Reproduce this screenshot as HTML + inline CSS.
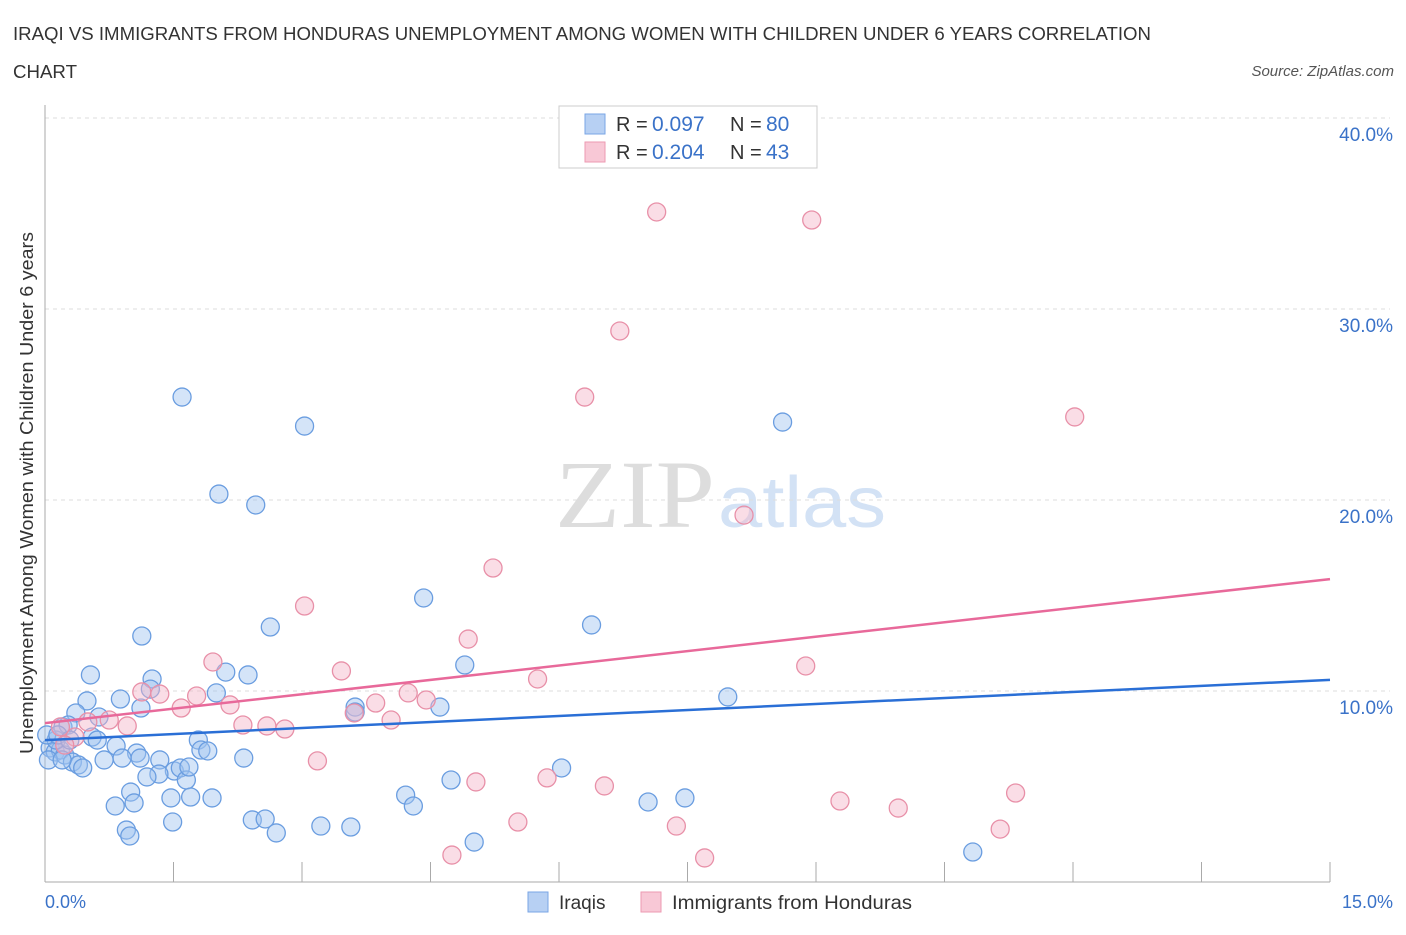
<!DOCTYPE html>
<html><head><meta charset="utf-8"><style>
body{margin:0;background:#fff;font-family:"Liberation Sans",sans-serif;}
svg text{font-family:"Liberation Sans",sans-serif;}
</style></head><body>
<svg id="chart" width="1406" height="930">
<text x="13" y="40" font-size="18" fill="#333" textLength="1138" lengthAdjust="spacingAndGlyphs">IRAQI VS IMMIGRANTS FROM HONDURAS UNEMPLOYMENT AMONG WOMEN WITH CHILDREN UNDER 6 YEARS CORRELATION</text>
<text x="13" y="78" font-size="18" fill="#333" textLength="64" lengthAdjust="spacingAndGlyphs">CHART</text>
<text x="1394" y="76" font-size="15" fill="#555" font-style="italic" text-anchor="end">Source: ZipAtlas.com</text>
<text x="555" y="527" font-size="96" fill="#ddd" textLength="160" lengthAdjust="spacingAndGlyphs" style="font-family:'Liberation Serif',serif">ZIP</text>
<text x="718" y="527" font-size="72" fill="#d3e2f5" textLength="168" lengthAdjust="spacingAndGlyphs">atlas</text>
<g id="grid"></g>
<g id="axes"></g>
<g id="points"></g>
<g id="lines"></g>
<text x="33" y="493" font-size="18" fill="#333" text-anchor="middle" textLength="522" lengthAdjust="spacingAndGlyphs" transform="rotate(-90 33 493)">Unemployment Among Women with Children Under 6 years</text>
<text x="45" y="908" font-size="18" fill="#3a72c8">0.0%</text>
<text x="1393" y="908" font-size="18" fill="#3a72c8" text-anchor="end">15.0%</text>
<g>
<rect x="559" y="106" width="258" height="62" fill="#fff" stroke="#ccc"/>
<rect x="585" y="114" width="20" height="20" fill="#b7d0f3" stroke="#7aa6e6"/>
<rect x="585" y="142" width="20" height="20" fill="#f8c8d6" stroke="#ec9ab2"/>
<text x="616" y="131" font-size="20" fill="#333">R = </text><text x="652" y="131" font-size="21" fill="#3a72c8">0.097</text>
<text x="730" y="131" font-size="20" fill="#333">N = </text><text x="766" y="131" font-size="21" fill="#3a72c8">80</text>
<text x="616" y="159" font-size="20" fill="#333">R = </text><text x="652" y="159" font-size="21" fill="#3a72c8">0.204</text>
<text x="730" y="159" font-size="20" fill="#333">N = </text><text x="766" y="159" font-size="21" fill="#3a72c8">43</text>
</g>
<g><rect x="528" y="892" width="20" height="20" fill="#b7d0f3" stroke="#7aa6e6"/><text x="559" y="909" font-size="19" fill="#333">Iraqis</text></g>
<g><rect x="641" y="892" width="20" height="20" fill="#f8c8d6" stroke="#ec9ab2"/><text x="672" y="909" font-size="19" fill="#333" textLength="240" lengthAdjust="spacingAndGlyphs">Immigrants from Honduras</text></g>
</svg>
<script>
const yTicks=[10,20,30,40];
const yTickLabels=["10.0%","20.0%","30.0%","40.0%"];
const xTicks=[0,1.5,3,4.5,6,7.5,9,10.5,12,13.5,15];
const iraqiX=[1.60,3.03,2.03,2.46,8.61,4.42,6.38,2.63,1.13,4.90,0.53,1.25,2.11,2.37,2.00,1.23,0.49,0.88,1.12,4.61,3.62,7.97,0.36,0.63,0.21,0.27,0.55,0.61,0.83,1.79,1.82,1.90,1.07,0.69,0.90,1.34,2.32,0.06,0.12,0.18,0.23,0.32,0.39,0.44,0.04,1.51,1.58,1.33,1.19,1.65,1.00,0.82,1.04,1.47,1.70,1.95,2.42,2.57,2.70,3.22,3.57,4.21,4.30,4.74,6.03,5.01,7.04,7.47,10.83,0.95,0.99,1.49,1.68,0.13,0.02,0.15,0.20,0.29,1.11,3.62];
const iraqiY=[25.39,23.87,20.31,19.74,24.08,14.87,13.46,13.35,12.88,11.36,10.84,10.63,10.99,10.84,9.90,10.10,9.48,9.58,9.11,9.16,9.16,9.69,8.85,8.64,8.12,8.22,7.59,7.43,7.12,7.43,6.91,6.86,6.75,6.39,6.49,6.39,6.49,7.02,6.81,6.91,6.65,6.28,6.13,5.97,6.39,5.81,5.97,5.65,5.50,5.34,4.71,3.98,4.14,4.40,4.45,4.40,3.25,3.30,2.57,2.93,2.88,4.55,3.98,5.34,5.97,2.09,4.19,4.40,1.57,2.72,2.41,3.14,6.02,7.43,7.70,7.70,6.39,7.43,6.49,8.90];
const hondX=[7.14,8.95,6.71,6.30,12.02,8.16,5.23,3.03,4.94,1.96,3.46,8.88,5.75,1.13,1.34,1.77,1.59,2.16,3.86,4.24,4.45,3.61,4.04,2.31,2.59,2.80,0.75,0.96,0.18,0.50,0.35,0.23,3.18,5.03,5.86,6.53,9.28,9.96,11.33,5.52,7.37,11.15,4.75,7.70];
const hondY=[35.08,34.66,28.85,25.39,24.35,19.21,16.44,14.45,12.72,11.52,11.05,11.31,10.63,9.95,9.84,9.74,9.11,9.27,9.37,9.90,9.53,8.85,8.48,8.22,8.17,8.01,8.48,8.17,8.12,8.38,7.59,7.17,6.34,5.24,5.45,5.03,4.24,3.87,4.66,3.14,2.93,2.77,1.41,1.26];
const iraqiTrend=[7.43,10.58];
const hondTrend=[8.32,15.86];
const NS="http://www.w3.org/2000/svg";
const sx=v=>45+v*1285/15, sy=v=>882-v*19.1;
function mk(tag,attrs,parent){const e=document.createElementNS(NS,tag);for(const k in attrs)e.setAttribute(k,attrs[k]);document.getElementById(parent).appendChild(e);return e;}
yTicks.forEach((t,i)=>{
 const g=mk('line',{x1:45,x2:1390,y1:sy(t),y2:sy(t),stroke:'#ddd','stroke-dasharray':'4,4'},'grid');
 
 
 const l=mk('text',{x:1393,y:sy(t)+23,'font-size':19,fill:'#3a72c8','text-anchor':'end'},'grid');
 l.textContent=yTickLabels[i];
 
 
});
const ya=mk('line',{x1:45,x2:45,y1:105,y2:882,stroke:'#aaa'},'axes');


const xa=mk('line',{x1:45,x2:1330,y1:882,y2:882,stroke:'#aaa'},'axes');


xTicks.forEach(t=>{const k=mk('line',{x1:sx(t),x2:sx(t),y1:862,y2:882,stroke:'#aaa'},'axes');
 
 });
iraqiX.forEach((x,i)=>{const c=mk('circle',{cx:sx(x),cy:sy(iraqiY[i]),r:9,fill:'rgba(160,195,240,0.45)',stroke:'#6a9de0','stroke-width':1.3},'points');
 
 });
hondX.forEach((x,i)=>{const c=mk('circle',{cx:sx(x),cy:sy(hondY[i]),r:9,fill:'rgba(245,180,200,0.45)',stroke:'#e890a8','stroke-width':1.3},'points');
 
 });
const bl=mk('line',{x1:sx(0),x2:sx(15),y1:sy(iraqiTrend[0]),y2:sy(iraqiTrend[1]),stroke:'#2a6fd6','stroke-width':2.5},'lines');


const pl=mk('line',{x1:sx(0),x2:sx(15),y1:sy(hondTrend[0]),y2:sy(hondTrend[1]),stroke:'#e8699a','stroke-width':2.5},'lines');


</script>
</body></html>
